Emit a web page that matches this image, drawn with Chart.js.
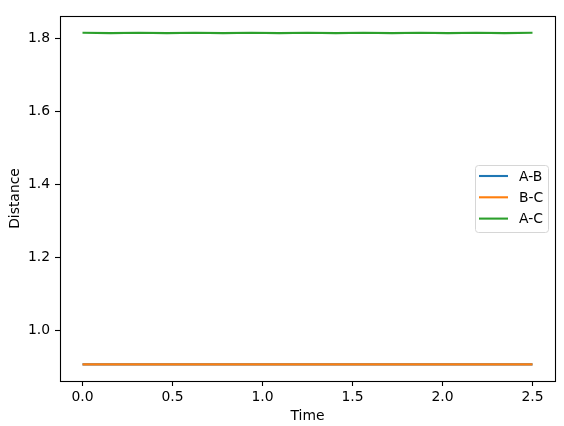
<!DOCTYPE html>
<html>
<head>
<meta charset="utf-8">
<script src="https://cdn.jsdelivr.net/npm/chart.js@4"></script>
<style>
  html, body { margin: 0; padding: 0; background: #fff; }
  #wrap { width: 564px; height: 426px; }
</style>
</head>
<body>
<div id="wrap"><canvas id="distChart" width="564" height="426"></canvas></div>
<script>
// sample times
const times = [0.0, 0.15625, 0.3125, 0.46875, 0.625, 0.78125, 0.9375, 1.09375, 1.25,
  1.40625, 1.5625, 1.71875, 1.875, 2.03125, 2.1875, 2.34375, 2.5];

// distances
const distAB = [0.907, 0.907, 0.907, 0.907, 0.907, 0.907, 0.907, 0.907, 0.907,
  0.907, 0.907, 0.907, 0.907, 0.907, 0.907, 0.907, 0.907];
const distBC = [0.907, 0.907, 0.907, 0.907, 0.907, 0.907, 0.907, 0.907, 0.907,
  0.907, 0.907, 0.907, 0.907, 0.907, 0.907, 0.907, 0.907];
const distAC = [1.8157, 1.8147, 1.8156, 1.8147, 1.8156, 1.8147, 1.8156, 1.8147, 1.8156,
  1.8147, 1.8156, 1.8147, 1.8156, 1.8147, 1.8156, 1.8147, 1.8156];

const seriesLabels = ["A-B", "B-C", "A-C"];
const xTicks = [0.0, 0.5, 1.0, 1.5, 2.0, 2.5];
const yTicks = [1.0, 1.2, 1.4, 1.6, 1.8];

const FONT = "'DejaVu Sans', sans-serif";
const FS = 13.9;

function toPoints(ys) {
  return times.map((t, i) => ({ x: t, y: ys[i] }));
}

// top/right spines like matplotlib
const frame = {
  id: "frame",
  afterDatasetsDraw(chart) {
    const { ctx, chartArea: a } = chart;
    ctx.save();
    ctx.strokeStyle = "#000";
    ctx.lineWidth = 1.1;
    ctx.strokeRect(Math.round(a.left) + 0.5, Math.round(a.top) + 0.5,
      Math.round(a.right - a.left), Math.round(a.bottom - a.top));
    ctx.restore();
  }
};

// legend drawn inside the axes, centre right
const boxLegend = {
  id: "boxLegend",
  afterDraw(chart) {
    const { ctx } = chart;
    const x = 475.5, y = 165.5, w = 73, h = 67;
    ctx.save();
    ctx.fillStyle = "rgba(255,255,255,0.8)";
    ctx.strokeStyle = "#d6d6d6";
    ctx.lineWidth = 1;
    ctx.beginPath();
    ctx.roundRect(x, y, w, h, 3);
    ctx.fill();
    ctx.stroke();
    ctx.font = FS + "px " + FONT;
    ctx.textBaseline = "middle";
    chart.data.datasets.forEach((ds, i) => {
      const cy = 176 + i * 21.3;
      ctx.strokeStyle = ds.borderColor;
      ctx.lineWidth = 2.1;
      ctx.beginPath();
      ctx.moveTo(479, cy);
      ctx.lineTo(508, cy);
      ctx.stroke();
      ctx.fillStyle = "#000";
      ctx.fillText(ds.label, 519, cy + 1);
    });
    ctx.restore();
  }
};

const ctx = document.getElementById("distChart").getContext("2d");
new Chart(ctx, {
  type: "line",
  data: {
    datasets: [
      { label: seriesLabels[0], data: toPoints(distAB), borderColor: "#1f77b4", order: 2 },
      { label: seriesLabels[1], data: toPoints(distBC), borderColor: "#ff7f0e", order: 1 },
      { label: seriesLabels[2], data: toPoints(distAC), borderColor: "#2ca02c", order: 0 }
    ]
  },
  options: {
    responsive: false,
    animation: false,
    events: [],
    layout: { padding: { top: 16, right: 9, left: 0, bottom: 0 } },
    elements: {
      line: { borderWidth: 2.1, tension: 0, fill: false },
      point: { radius: 0 }
    },
    plugins: {
      legend: { display: false },
      tooltip: { enabled: false }
    },
    scales: {
      x: {
        type: "linear",
        min: -0.125,
        max: 2.625,
        afterBuildTicks: (s) => { s.ticks = xTicks.map(v => ({ value: v })); },
        afterFit: (s) => { s.height = 45; },
        border: { display: false },
        grid: { drawOnChartArea: false, drawTicks: true, tickLength: 5, tickWidth: 1.1, tickColor: "#000" },
        ticks: {
          color: "#000",
          padding: 3,
          maxRotation: 0,
          autoSkip: false,
          font: { family: FONT, size: FS },
          callback: (v) => Number(v).toFixed(1)
        },
        title: {
          display: true,
          text: "Time",
          color: "#000",
          font: { family: FONT, size: FS },
          padding: { top: 0, bottom: 1 }
        }
      },
      y: {
        type: "linear",
        min: 0.8615,
        max: 1.8615,
        afterBuildTicks: (s) => { s.ticks = yTicks.map(v => ({ value: v })); },
        afterFit: (s) => { s.width = 60; },
        border: { display: false },
        grid: { drawOnChartArea: false, drawTicks: true, tickLength: 5, tickWidth: 1.1, tickColor: "#000" },
        ticks: {
          color: "#000",
          padding: 5,
          autoSkip: false,
          font: { family: FONT, size: FS },
          callback: (v) => Number(v).toFixed(1)
        },
        title: {
          display: true,
          text: "Distance",
          color: "#000",
          font: { family: FONT, size: FS },
          padding: { top: 7, bottom: 0 }
        }
      }
    }
  },
  plugins: [frame, boxLegend]
});
</script>
</body>
</html>
